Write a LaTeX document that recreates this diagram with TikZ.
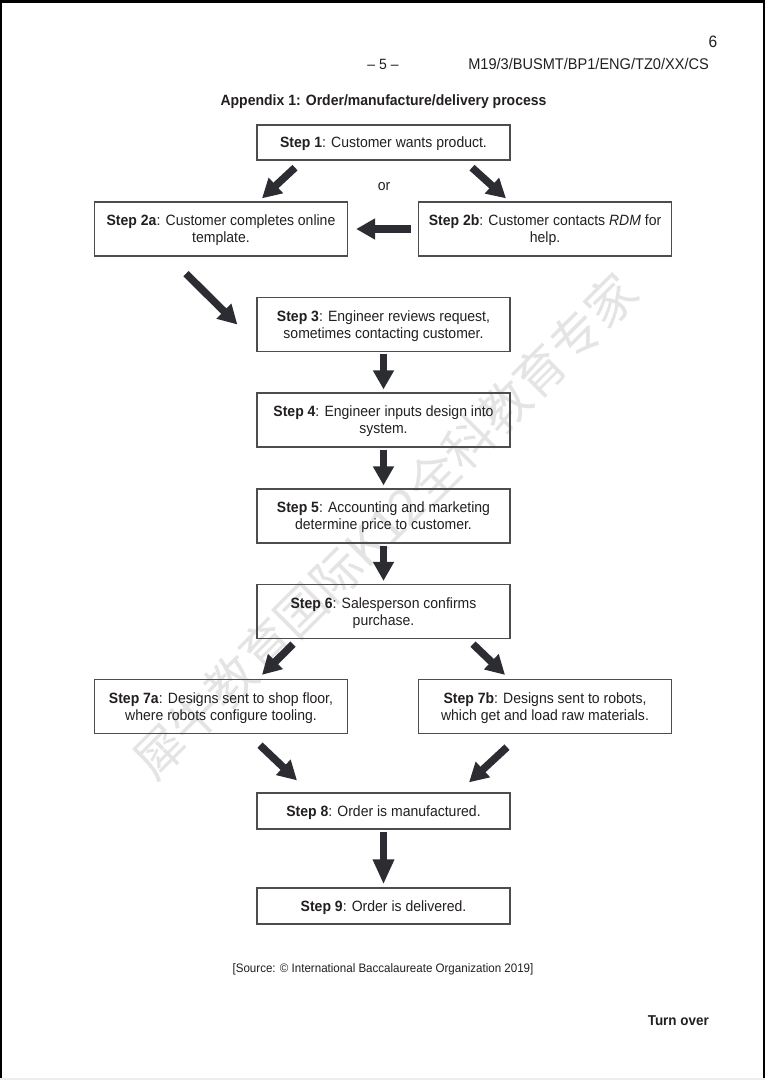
\documentclass[tikz,border=0pt]{standalone}
\usepackage{fontspec}
\setmainfont{Liberation Sans}[FakeStretch=0.94]
\newfontfamily\cjkfont{Noto Sans CJK SC}
\usetikzlibrary{calc,arrows.meta}
\definecolor{ink}{HTML}{231F20}
\definecolor{frame}{HTML}{4D4D4D}
\definecolor{arrowfill}{HTML}{2B2D32}
\definecolor{mark}{HTML}{E4E4E4}
\tikzset{
  stepbox/.style={draw=frame, line width=1.3pt, minimum width=253pt, minimum height=54pt,
    align=center, inner sep=0pt, text depth=0pt, text=ink, font=\fontsize{14.9}{17}\selectfont},
  onebox/.style={stepbox, minimum height=36pt},
  fat/.style={draw=arrowfill, line width=7.5pt, -{Triangle[length=19pt,width=20pt]}},
  fatlong/.style={fat, -{Triangle[length=25pt,width=20pt]}},
  lab/.style={text=ink, inner sep=0pt, font=\fontsize{14.9}{17}\selectfont},
}

\begin{document}
\begin{tikzpicture}[x=1pt,y=-1pt]
  \useasboundingbox (0,0) rectangle (765,1080);
  \fill[white] (0,0) rectangle (765,1080);
  % scan edges
  \fill[black] (0,0) rectangle (765,3);
  \fill[black] (0,0) rectangle (2,1080);
  \fill[black] (763,0) rectangle (765,1080);
  \fill[black!7] (0,1078) rectangle (765,1080);

  % watermark
  \node[rotate=45, text=mark, font=\cjkfont\fontsize{50}{50}\selectfont] (wm) at (385,526)
    {犀牛教育国际K12全科教育专家};

  % header
  \node[lab, font=\fontsize{16.5}{18}\selectfont, anchor=base] (pg) at (713,47.5) {6};
  \node[lab, anchor=base] (pnum) at (383,69) {– 5 –};
  \node[lab, anchor=base east, font=\fontsize{15.5}{18}\selectfont] (code) at (709,69) {M19/3/BUSMT/BP1/ENG/TZ0/XX/CS};
  \node[lab, anchor=base, font=\bfseries\fontsize{14.9}{17}\selectfont] (title) at (383.5,105)
    {Appendix 1: Order/manufacture/delivery process};

  % steps
  \node[onebox, minimum height=35pt] (s1) at (383.5,142.5) {\textbf{Step 1}: Customer wants product.};
  \node[stepbox] (s2a) at (221,229) {\textbf{Step 2a}: Customer completes online\\template.};
  \node[stepbox] (s2b) at (545,229) {\textbf{Step 2b}: Customer contacts \textit{RDM} for\\help.};
  \node[stepbox] (s3) at (383.5,324.5) {\textbf{Step 3}: Engineer reviews request,\\sometimes contacting customer.};
  \node[stepbox] (s4) at (383.5,420) {\textbf{Step 4}: Engineer inputs design into\\system.};
  \node[stepbox] (s5) at (383.5,516) {\textbf{Step 5}: Accounting and marketing\\determine price to customer.};
  \node[stepbox] (s6) at (383.5,611.5) {\textbf{Step 6}: Salesperson confirms\\purchase.};
  \node[stepbox] (s7a) at (221,706.5) {\textbf{Step 7a}: Designs sent to shop floor,\\where robots configure tooling.};
  \node[stepbox] (s7b) at (545,706.5) {\textbf{Step 7b}: Designs sent to robots,\\which get and load raw materials.};
  \node[onebox] (s8) at (383.5,811) {\textbf{Step 8}: Order is manufactured.};
  \node[onebox] (s9) at (383.5,906) {\textbf{Step 9}: Order is delivered.};

  \node[lab, anchor=base] (or) at (384,190) {or};

  % arrows
  \draw[fat] ($(s1.south)+(-88.5,7)$) -- ($(s2a.north)+(41,-3)$);
  \draw[fat] ($(s1.south)+(88.5,7)$) -- ($(s2b.north)+(-39,-3)$);
  \draw[fat, shorten <=7pt, shorten >=8pt] (s2b.west) -- (s2a.east);
  \draw[fat] ($(s2a.south)+(-35,17)$) -- ($(s3.west)+(-19,0)$);
  \draw[fat, shorten <=2pt, shorten >=3pt] (s3.south) -- (s4.north);
  \draw[fat, shorten <=2pt, shorten >=3pt] (s4.south) -- (s5.north);
  \draw[fat, shorten <=2pt, shorten >=3pt] (s5.south) -- (s6.north);
  \draw[fat] ($(s6.south)+(-90.5,5)$) -- ($(s7a.north)+(41,-4)$);
  \draw[fat] ($(s6.south)+(89.5,5)$) -- ($(s7b.north)+(-40,-4)$);
  \draw[fat] ($(s7a.south)+(39,11)$) -- ($(s8.north)+(-86.5,-12)$);
  \draw[fat] ($(s7b.south)+(-38,13)$) -- ($(s8.north)+(85.5,-10)$);
  \draw[fatlong, shorten <=2pt, shorten >=3pt] (s8.south) -- (s9.north);

  % footer
  \node[lab, anchor=base, font=\fontsize{12.3}{14}\selectfont] (src) at (383,972.5)
    {[Source: © International Baccalaureate Organization 2019]};
  \node[lab, anchor=base east, font=\bfseries\fontsize{14.3}{16}\selectfont] (turn) at (709,1025) {Turn over};
\end{tikzpicture}
\end{document}
